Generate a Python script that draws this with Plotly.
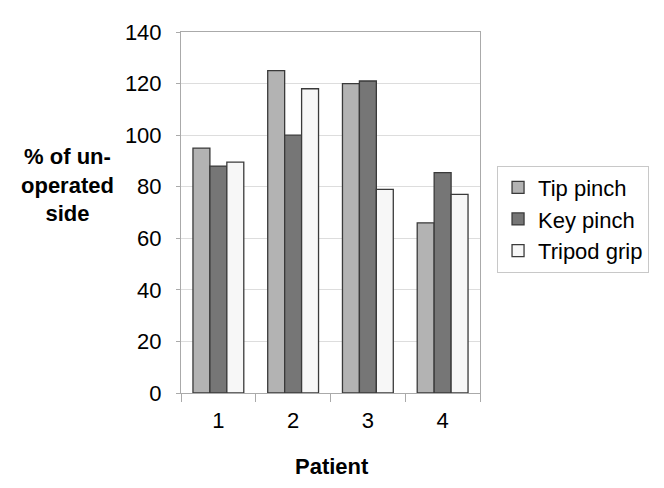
import plotly.graph_objects as go

# --- data ---
PATIENTS = ['1', '2', '3', '4']
TIP_PINCH = [95, 125, 120, 66]
KEY_PINCH = [88, 100, 121, 85.5]
TRIPOD_GRIP = [89.5, 118, 79, 77]

SERIES = [
    ('Tip pinch', TIP_PINCH, '#b3b3b3'),
    ('Key pinch', KEY_PINCH, '#767676'),
    ('Tripod grip', TRIPOD_GRIP, '#f7f7f7'),
]

FONT = 'Liberation Sans, Arial, sans-serif'

fig = go.Figure()
for name, vals, color in SERIES:
    fig.add_trace(go.Bar(
        x=PATIENTS, y=vals, name=name,
        marker=dict(color=color, line=dict(color='#3a3a3a', width=1.3)),
    ))

# page body has an 8px margin, so margins are shifted by 8px
fig.update_layout(
    width=664, height=488,
    margin=dict(l=173, r=192, t=20, b=103),
    paper_bgcolor='white', plot_bgcolor='white',
    font=dict(family=FONT, size=22, color='black'),
    barmode='group', bargap=0.32, bargroupgap=0,
    showlegend=True,
    legend=dict(
        x=1.057, y=0.63, xanchor='left', yanchor='top',
        bordercolor='#c8c8c8', borderwidth=1,
        font=dict(size=22), itemwidth=30,
    ),
)

fig.update_xaxes(
    type='category', tickson='boundaries',
    ticks='outside', ticklen=8, tickcolor='#aaaaaa',
    ticklabelstandoff=8,
    showline=True, linecolor='#aaaaaa', linewidth=1, mirror=True,
    showgrid=False,
)
fig.update_yaxes(
    range=[0, 140], dtick=20,
    ticks='outside', ticklen=4, tickcolor='#aaaaaa',
    ticklabelstandoff=10,
    showline=True, linecolor='#aaaaaa', linewidth=1, mirror=True,
    showgrid=True, gridcolor='#dddddd', gridwidth=1,
    zeroline=False,
)

fig.add_annotation(
    text='<b>% of un-<br>operated<br>side</b>',
    xref='paper', yref='paper', x=-0.381, y=0.575,
    xanchor='center', yanchor='middle', showarrow=False,
    font=dict(size=22), align='center',
)
fig.add_annotation(
    text='<b>Patient</b>',
    xref='paper', yref='paper', x=0.505, y=-0.203,
    xanchor='center', yanchor='middle', showarrow=False,
    font=dict(size=22),
)

fig.write_html('out.html')
